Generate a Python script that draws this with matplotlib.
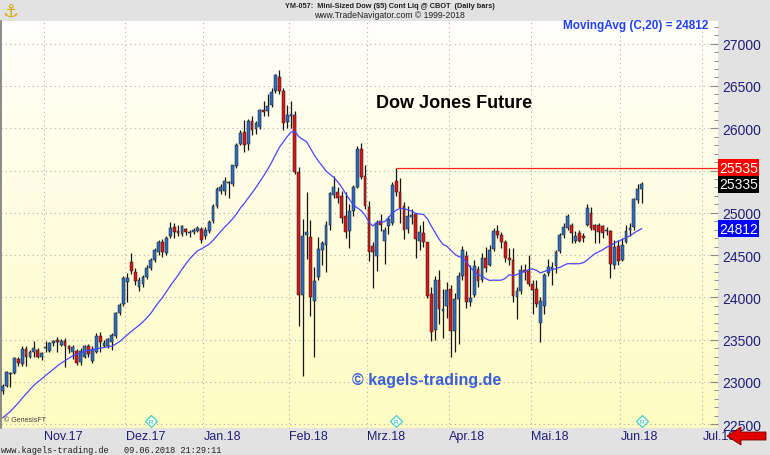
import numpy as np
import pandas as pd
import matplotlib.pyplot as plt
from matplotlib.patches import Polygon
from matplotlib.ticker import MultipleLocator
from matplotlib.transforms import blended_transform_factory

plt.rcParams['font.family'] = ['Liberation Sans', 'DejaVu Sans']

# YM-057 Mini-Sized Dow, daily bars 17.10.2017 - 08.06.2018
opens = [22890, 22955, 23100, 23110, 23270, 23210, 23390, 23300, 23350, 23380, 23290,
         23400, 23370, 23460, 23500, 23440, 23490, 23420, 23360, 23370, 23240, 23300, 23420, 23250, 23360, 23545, 23430, 23420, 23470, 23540, 23810, 23920,
         24180, 24420, 24300, 24120, 24160, 24240, 24350, 24440, 24540, 24650, 24530, 24720, 24830, 24780, 24745, 24805, 24765, 24775, 24790, 24810,
         24720, 24790, 24900, 25085, 25260, 25260, 25360, 25340, 25550, 25810, 25950, 25810, 26090, 25990, 26010, 26220, 26200, 26280, 26440, 26600, 26440, 26070,
         26150, 26160, 25480, 24030, 24740, 24710, 23960, 24240, 24560, 24620, 24860, 25210, 25240, 25195, 24960, 24780, 25020, 25310, 25750, 25440,
         25070, 24610, 24490, 24900, 24670, 24840, 24880, 25370, 25240, 25080, 24805, 24950, 24980, 24670, 24760, 24650, 24040, 23610, 24200, 23840, 23900,
         24100, 23600, 23980, 24250, 24490, 23950, 24030, 24340, 24200, 24470, 24380, 24570, 24780, 24740, 24660, 24470, 24440, 24000, 24080, 24320, 24310,
         24160, 24100, 23700, 23900, 24290, 24340, 24370, 24550, 24740, 24820, 24860, 24670, 24760, 24720, 24860, 25000, 24860, 24850, 24840, 24780, 24780, 24380, 24610,
         24440, 24660, 24800, 24830, 25150, 25285]
highs = [22975, 23135, 23120, 23300, 23300, 23420, 23420, 23380, 23480, 23400, 23360,
         23480, 23470, 23500, 23530, 23510, 23520, 23440, 23440, 23390, 23400, 23440, 23450, 23420, 23580, 23590, 23500, 23520, 23580, 23830, 23930, 24250,
         24290, 24530, 24350, 24240, 24260, 24380, 24460, 24580, 24680, 24690, 24720, 24890, 24880, 24850, 24860, 24820, 24800, 24820, 24840, 24830,
         24830, 24910, 25100, 25300, 25340, 25420, 25380, 25570, 25820, 25980, 26100, 26110, 26140, 26080, 26230, 26320, 26400, 26470, 26640, 26690, 26480, 26280,
         26320, 26200, 25540, 24930, 25240, 24920, 24360, 24710, 24670, 24900, 25250, 25430, 25300, 25260, 25250, 25100, 25330, 25790, 25820, 25560,
         25140, 24650, 24920, 24990, 24830, 24960, 25360, 25535, 25410, 25130, 25080, 25040, 25000, 24860, 24900, 24660, 24120, 24250, 24320, 24100, 24180,
         24150, 24050, 24300, 24610, 24550, 24380, 24440, 24370, 24520, 24590, 24620, 24820, 24850, 24770, 24680, 24580, 24580, 24120, 24380, 24400, 24500,
         24200, 24200, 24000, 24290, 24450, 24420, 24560, 24760, 24880, 24990, 24880, 24790, 24800, 24760, 25100, 25070, 24870, 24880, 24860, 24830, 24800, 24680, 24680,
         24700, 24850, 24880, 25170, 25340, 25360]
lows = [22860, 22940, 22940, 23100, 23190, 23190, 23190, 23280, 23300, 23280, 23260,
        23350, 23350, 23420, 23360, 23420, 23180, 23340, 23270, 23200, 23200, 23280, 23300, 23220, 23340, 23360, 23410, 23400, 23380, 23520, 23790, 23900,
        23950, 24280, 24150, 24070, 24120, 24220, 24320, 24420, 24500, 24480, 24500, 24700, 24700, 24720, 24720, 24740, 24710, 24750, 24770, 24640,
        24690, 24760, 24880, 25060, 25220, 25210, 25180, 25320, 25530, 25800, 25720, 25740, 25920, 25930, 25990, 26150, 26150, 26250, 26420, 26400, 25980, 26000,
        26000, 25460, 23660, 23070, 24450, 23780, 23300, 24200, 24380, 24300, 24800, 25170, 25120, 24880, 24700, 24580, 24960, 25290, 25400, 25050,
        24430, 24110, 24310, 24780, 24400, 24750, 24850, 25200, 24880, 24690, 24760, 24870, 24460, 24560, 24600, 23990, 23480, 23500, 23680, 23520, 23760,
        23300, 23360, 23450, 24200, 23880, 23900, 24000, 24120, 24180, 24300, 24370, 24550, 24700, 24580, 24420, 24380, 23950, 23740, 24040, 24200, 24130,
        23800, 23890, 23470, 23800, 24250, 24150, 24290, 24530, 24700, 24800, 24640, 24640, 24650, 24650, 24840, 24800, 24640, 24640, 24700, 24740, 24230, 24330, 24380,
        24430, 24640, 24720, 24800, 25120, 25110]
closes = [22950, 23115, 23105, 23285, 23225, 23390, 23300, 23355, 23400, 23300, 23340,
          23405, 23460, 23490, 23470, 23490, 23420, 23385, 23410, 23230, 23370, 23420, 23330, 23390, 23545, 23475, 23465, 23510, 23555, 23810, 23915, 24235,
          24230, 24310, 24190, 24200, 24240, 24350, 24440, 24560, 24650, 24540, 24700, 24820, 24770, 24760, 24840, 24775, 24770, 24800, 24825, 24680,
          24800, 24890, 25080, 25280, 25300, 25370, 25350, 25560, 25800, 25940, 25800, 26090, 25980, 26060, 26210, 26190, 26260, 26430, 26630, 26440, 26060, 26160,
          26170, 25480, 24030, 24730, 24770, 24000, 24190, 24570, 24640, 24860, 25230, 25300, 25180, 24940, 24770, 25020, 25310, 25750, 25420, 25080,
          24540, 24540, 24880, 24850, 24800, 24930, 25330, 25240, 25060, 24800, 24960, 24975, 24690, 24770, 24650, 24020, 23590, 24210, 23860, 23860, 24090,
          23600, 23980, 24250, 24560, 23940, 23990, 24370, 24190, 24470, 24350, 24560, 24780, 24740, 24660, 24460, 24440, 24020, 24080, 24320, 24300, 24160,
          24090, 23920, 23960, 24260, 24360, 24360, 24540, 24740, 24830, 24960, 24760, 24730, 24670, 24700, 25060, 24820, 24800, 24770, 24760, 24800, 24390, 24590, 24430,
          24620, 24790, 24820, 25160, 25280, 25335]
# 19 Schlusskurse vor dem ersten Bar, nur fuer den gleitenden Durchschnitt
pre_closes = [22372, 22319, 22309, 22257, 22244, 22300, 22341, 22365, 22517, 22601,
              22621, 22735, 22733, 22721, 22791, 22832, 22801, 22831, 22917]

month_names = ['Nov.17', 'Dez.17', 'Jan.18', 'Feb.18', 'Mrz.18', 'Apr.18', 'Mai.18', 'Jun.18', 'Jul.18']
resistance = 25535
resistance_date = '2018-03-12'
roll_dates = ['2017-12-11', '2018-03-12', '2018-06-08']

W, H = 770, 456


def fx(px):
    return px / W


def fy(py):
    return 1 - py / H


# Handelstage (CME auch an MLK / Presidents / Memorial Day)
days = pd.bdate_range('2017-10-17', '2018-07-06')
days = days[~days.isin(pd.to_datetime(['2017-11-23', '2017-12-25', '2018-01-01', '2018-03-30', '2018-07-04']))]

o = np.array(opens, float)
h = np.array(highs, float)
l = np.array(lows, float)
c = np.array(closes, float)
n = len(c)
x = np.arange(n)

ma = pd.Series(pre_closes + closes).rolling(20).mean().values[len(pre_closes):]
ma_last = int(round(ma[-1]))

X0, DX = 2.7, 3.896


def px2i(px):
    return (px - X0) / DX


def py2p(py):
    return 23000 + (383 - py) / 0.0846


fig = plt.figure(figsize=(W / 100, H / 100), dpi=100, facecolor='#e2e2e2')
ax = fig.add_axes([fx(1), fy(429), 717 / W, (429 - 22) / H])
xl = (px2i(1), px2i(718))
yl = (py2p(429), py2p(22))

# Hintergrund Verlauf weiss -> hellgelb
g = np.linspace(0, 1, 256)[:, None]
img = np.ones((256, 1, 3))
img[..., 2] = 0.985 - 0.22 * g
img[..., 1] = 1.0 - 0.01 * g
ax.imshow(img, extent=[xl[0], xl[1], yl[0], yl[1]], aspect='auto', zorder=0, origin='upper')
ax.set_xlim(xl)
ax.set_ylim(yl)

# Gitter
for lev in range(22500, 27001, 500):
    ax.hlines(lev, xl[0], xl[1], color='#b0b0b0', lw=0.8, linestyles=(0, (1, 3)), zorder=1)
per = days.to_period('M')
starts = np.flatnonzero(per[1:] != per[:-1]) + 1
xt = ax.get_xaxis_transform()
for s, name in zip(starts, month_names):
    ax.axvline(s - 0.5, color='#b0b0b0', lw=0.8, ls=(0, (1, 3)), zorder=1)
    ax.text(s - 0.4, -0.0197, name, transform=xt, ha='left', va='center',
            fontsize=9, color='#1e1e78', clip_on=False)

# Kerzen
col = np.where(c > o, '#2d6cc0', np.where(c < o, '#d81818', '#202020'))
ax.vlines(x, l, h, color='#151515', lw=0.9, zorder=3)
ax.bar(x, np.maximum(np.abs(c - o), 8), bottom=np.minimum(o, c), width=0.72,
       color=col, edgecolor='#1a1a1a', linewidth=0.35, zorder=4)

ax.plot(x, ma, color='#4646ff', lw=0.9, zorder=5)

ri = days.get_loc(pd.Timestamp(resistance_date))
ax.hlines(resistance, ri, xl[1], color='#ff2020', lw=0.9, zorder=5)

# Achse rechts (25500 liegt unter der roten Marke)
ax.yaxis.tick_right()
yt = np.arange(22500, 27001, 500)
ax.set_yticks(yt)
ax.set_yticklabels(['' if v == 25500 else str(v) for v in yt])
ax.yaxis.set_minor_locator(MultipleLocator(100))
ax.tick_params(axis='y', which='major', direction='in', length=6, width=0.8, color='#8a8a8a',
               labelsize=10, labelcolor='#1e1e78', pad=3)
ax.tick_params(axis='y', which='minor', direction='in', length=3, width=0.7, color='#8a8a8a')
ax.set_xticks([])
for s in ['top', 'right', 'bottom']:
    ax.spines[s].set_visible(False)
ax.spines['left'].set_color('#7a7a7a')
ax.spines['left'].set_linewidth(1.2)

bt = blended_transform_factory(ax.transAxes, ax.transData)
for val, fc in [(resistance, '#ff0000'), (closes[-1], '#000000'), (ma_last, '#0000ff')]:
    ax.text(1.0015, val, f'{val}', transform=bt, ha='left', va='center', color='white', fontsize=10,
            bbox=dict(boxstyle='square,pad=0.1', fc=fc, ec='none'), clip_on=False, zorder=10)

# Roll-Marker
mt = blended_transform_factory(ax.transData, ax.transAxes)
for d in roll_dates:
    i = days.get_loc(pd.Timestamp(d))
    ax.plot(i, 0.016, marker='D', ms=6, mfc='#effff9', mec='#38c8c0', mew=0.8,
            transform=mt, clip_on=False, zorder=6)
    ax.text(i, 0.016, 'R', transform=mt, fontsize=4.5, color='#30b0a8',
            ha='center', va='center', zorder=7)

# Texte
fig.text(fx(2), fy(12), '\u2693', fontsize=13, color='#d4a800', family='DejaVu Sans', va='center')
fig.text(fx(390), fy(6), 'YM-057:  Mini-Sized Dow ($5) Cont Liq @ CBOT  (Daily bars)',
         ha='center', va='center', fontsize=5.3, weight='bold', color='#202020')
fig.text(fx(389), fy(16), 'www.TradeNavigator.com \u00a9 1999-2018',
         ha='center', va='center', fontsize=6.2, color='#202020')
fig.text(fx(708), fy(26), f'MovingAvg (C,20) = {ma_last}', ha='right', va='center',
         fontsize=8.5, weight='bold', color='#1f3fff')
fig.text(fx(376), fy(103), 'Dow Jones Future', ha='left', va='center',
         fontsize=13, weight='bold', color='black')
fig.text(fx(427), fy(381), '\u00a9 kagels-trading.de', ha='center', va='center',
         fontsize=11.5, weight='bold', color='#3a5fd6')
fig.text(fx(4), fy(421), '\u00a9 GenesisFT', ha='left', va='center', fontsize=5, color='#404040')
fig.text(fx(1), fy(451), 'www.kagels-trading.de   09.06.2018 21:29:11', ha='left', va='center',
         fontsize=6.2, family='Liberation Mono', color='#202020')

arrow = [(727, 437), (741, 428), (741, 433), (766, 433), (766, 441), (741, 441), (741, 446)]
fig.patches.append(Polygon([(fx(a), fy(b)) for a, b in arrow], closed=True, transform=fig.transFigure,
                           fc='#e00000', ec='#700000', lw=0.6, zorder=10))

fig.savefig('out.png', dpi=100, facecolor=fig.get_facecolor())
